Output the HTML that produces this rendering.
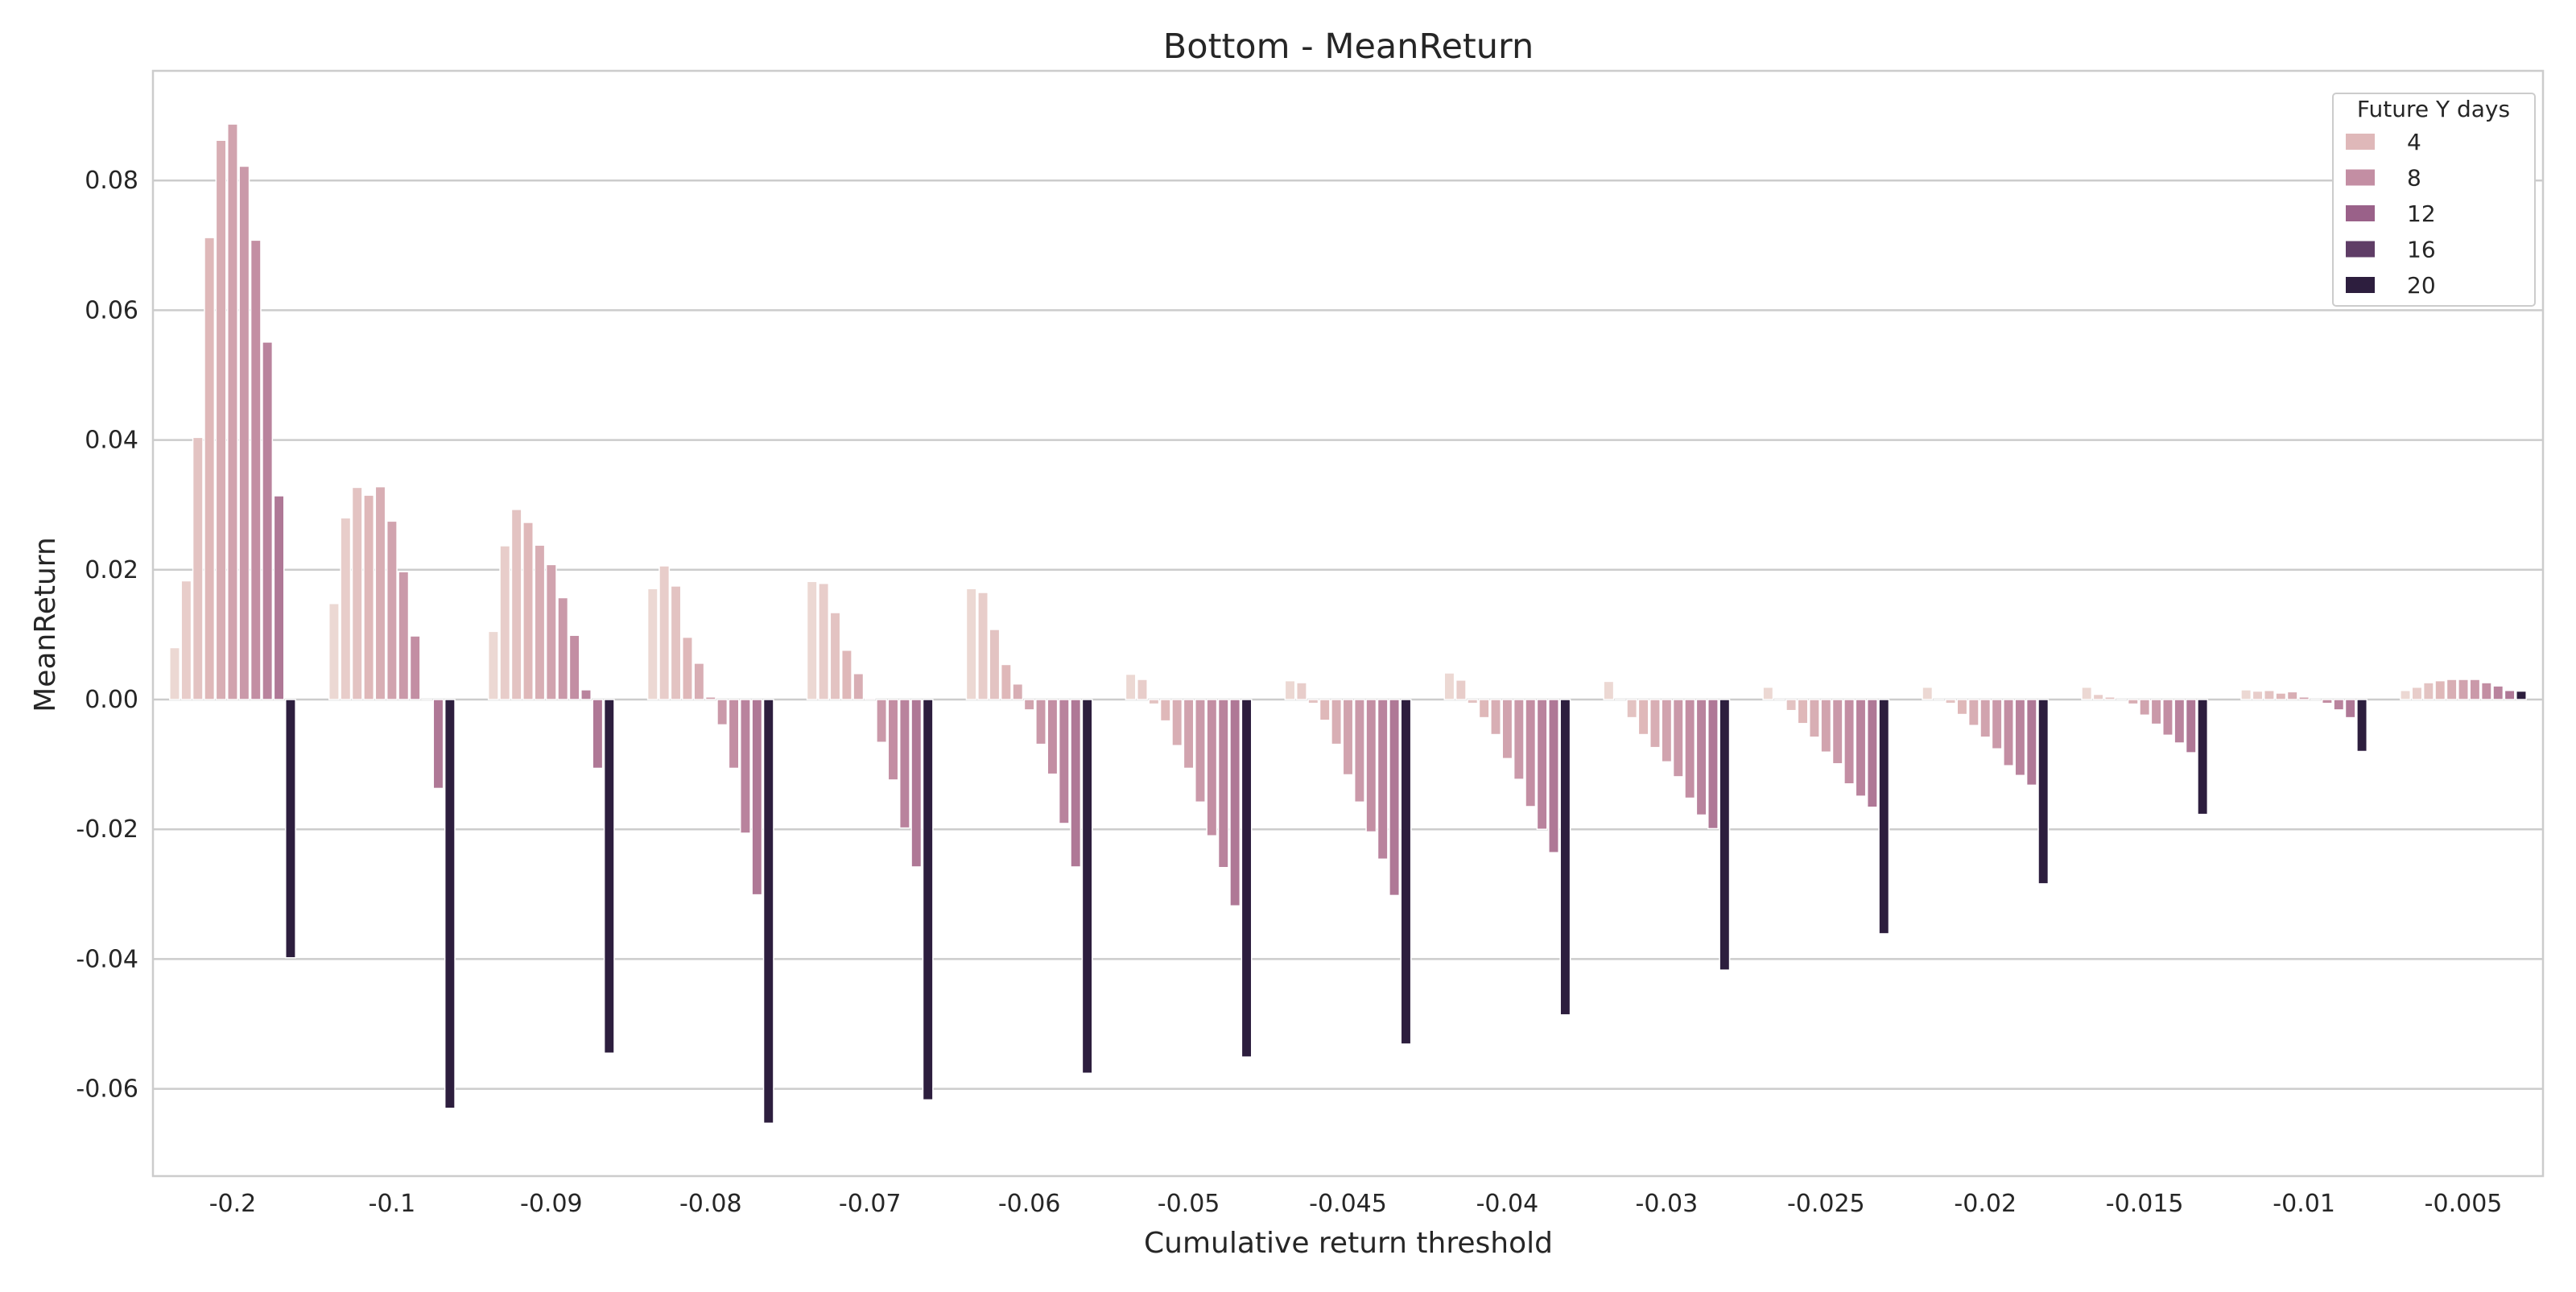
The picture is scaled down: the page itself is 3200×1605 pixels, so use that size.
<!DOCTYPE html>
<html><head><meta charset="utf-8"><style>
html,body{margin:0;padding:0;background:#fff;}
svg text{font-family:"DejaVu Sans","Liberation Sans",sans-serif;fill:#262626;}
</style></head><body>
<svg id="chart" width="3200" height="1600" viewBox="0 0 3200 1600" xmlns="http://www.w3.org/2000/svg">
<rect x="0" y="0" width="3200" height="1600" fill="#fff"/>
<text x="1675" y="72" font-size="43" text-anchor="middle">Bottom - MeanReturn</text>
<g id="grid"></g>
<g id="bars"></g>
<rect x="190" y="88" width="2969" height="1373" fill="none" stroke="#cccccc" stroke-width="2.5"/>
<g id="yticks"></g>
<g id="xticks"></g>
<text x="1675" y="1556" font-size="36" text-anchor="middle">Cumulative return threshold</text>
<text x="0" y="0" font-size="36" text-anchor="middle" transform="translate(68,776) rotate(-90)">MeanReturn</text>
<g id="legend"></g>
</svg>
<script>
const categories = ["-0.2","-0.1","-0.09","-0.08","-0.07","-0.06","-0.05","-0.045","-0.04","-0.03","-0.025","-0.02","-0.015","-0.01","-0.005"];
const hueLevels = [1,2,3,4,5,6,7,8,9,10,20];
const values = [
 [0.0080,0.0183,0.0404,0.0712,0.0862,0.0887,0.0822,0.0708,0.0551,0.0314,-0.0398],
 [0.0148,0.0280,0.0327,0.0315,0.0328,0.0275,0.0197,0.0098,0.0000,-0.0137,-0.0630],
 [0.0105,0.0237,0.0293,0.0273,0.0238,0.0208,0.0157,0.0099,0.0015,-0.0106,-0.0545],
 [0.0171,0.0206,0.0175,0.0096,0.0056,0.0004,-0.0039,-0.0106,-0.0206,-0.0301,-0.0653],
 [0.0182,0.0179,0.0134,0.0076,0.0040,0.0002,-0.0066,-0.0124,-0.0198,-0.0258,-0.0617],
 [0.0171,0.0165,0.0108,0.0054,0.0024,-0.0016,-0.0069,-0.0115,-0.0191,-0.0258,-0.0576],
 [0.0039,0.0031,-0.0007,-0.0033,-0.0071,-0.0106,-0.0158,-0.0210,-0.0259,-0.0318,-0.0551],
 [0.0029,0.0026,-0.0006,-0.0032,-0.0069,-0.0116,-0.0158,-0.0204,-0.0246,-0.0302,-0.0531],
 [0.0041,0.0030,-0.0006,-0.0028,-0.0054,-0.0091,-0.0123,-0.0165,-0.0200,-0.0236,-0.0486],
 [0.0028,0.0000,-0.0028,-0.0054,-0.0074,-0.0096,-0.0119,-0.0152,-0.0178,-0.0199,-0.0417],
 [0.0019,0.0000,-0.0017,-0.0037,-0.0058,-0.0081,-0.0099,-0.0130,-0.0149,-0.0166,-0.0361],
 [0.0019,0.0000,-0.0006,-0.0023,-0.0040,-0.0058,-0.0076,-0.0102,-0.0117,-0.0132,-0.0284],
 [0.0019,0.0008,0.0004,0.0000,-0.0007,-0.0024,-0.0038,-0.0055,-0.0067,-0.0082,-0.0177],
 [0.0015,0.0013,0.0014,0.0010,0.0012,0.0004,0.0000,-0.0006,-0.0016,-0.0028,-0.0080],
 [0.0014,0.0019,0.0026,0.0029,0.0031,0.0031,0.0031,0.0026,0.0021,0.0014,0.0013]
];
const yTicks = [0.08,0.06,0.04,0.02,0.00,-0.02,-0.04,-0.06];
const yTickLabels = ["0.08","0.06","0.04","0.02","0.00","-0.02","-0.04","-0.06"];
const legendLevels = [4,8,12,16,20];

const NS="http://www.w3.org/2000/svg";
const PL=190, PR=3159, PT=88, PB=1461;
const Y0=869, PER=8060;
function yScale(v){return Y0 - v*PER;}
const groupW=(PR-PL)/categories.length;
function xCenter(i){return PL + (i+0.5)*groupW;}
const slotW = groupW*0.8/hueLevels.length;
const stops=[[0,[236,216,211]],[0.16,[223,184,185]],[0.37,[195,142,163]],[0.58,[154,97,137]],[0.79,[95,61,102]],[1,[45,30,62]]];
function color(h){
  const t=(h-1)/19;
  for(let k=0;k<stops.length-1;k++){
    const a=stops[k],b=stops[k+1];
    if(t<=b[0]){const f=(t-a[0])/(b[0]-a[0]);
      const c=a[1].map((x,j)=>Math.round(x+(b[1][j]-x)*f));
      return `rgb(${c[0]},${c[1]},${c[2]})`;}
  }
  return "rgb(45,30,62)";
}
function mk(tag,attrs,parent){const e=document.createElementNS(NS,tag);for(const k in attrs)e.setAttribute(k,attrs[k]);parent.appendChild(e);return e;}

const grid=document.getElementById('grid'), yt=document.getElementById('yticks');
yTicks.forEach((v,i)=>{
  const y=yScale(v);
  const l=mk('line',{x1:PL,x2:PR,y1:y,y2:y,stroke:'#cccccc','stroke-width':2.5},grid);
  
  
  const t=mk('text',{x:172,y:y+10,'font-size':30,'text-anchor':'end'},yt);
  t.textContent=yTickLabels[i];
  
  
});
const xt=document.getElementById('xticks');
categories.forEach((c,i)=>{
  const t=mk('text',{x:xCenter(i),y:1505,'font-size':30,'text-anchor':'middle'},xt);
  t.textContent=c;
  
  
});
const bars=document.getElementById('bars');
values.forEach((row,i)=>{
  row.forEach((v,k)=>{
    const x=xCenter(i)-groupW*0.4+k*slotW;
    const y1=yScale(Math.max(v,0)), y2=yScale(Math.min(v,0));
    const r=mk('rect',{x:x+1,y:y1,width:slotW-2,height:Math.max(y2-y1,0.01),fill:color(hueLevels[k]),stroke:'#ffffff','stroke-width':1.5},bars);
    
    
  });
});
const lg=document.getElementById('legend');
const box=mk('rect',{x:2898,y:116,width:251,height:264,fill:'#fff',stroke:'#cccccc','stroke-width':2,rx:4},lg);


const lt=mk('text',{x:3023,y:145,'font-size':28,'text-anchor':'middle'},lg);
lt.textContent='Future Y days';


legendLevels.forEach((h,i)=>{
  const y=176+i*44.5;
  const p=mk('rect',{x:2914,y:y-10,width:36,height:20,fill:color(h)},lg);
  
  
  const t=mk('text',{x:2990,y:y+10,'font-size':28},lg);
  t.textContent=String(h);
  
  
});
</script>
</body></html>
